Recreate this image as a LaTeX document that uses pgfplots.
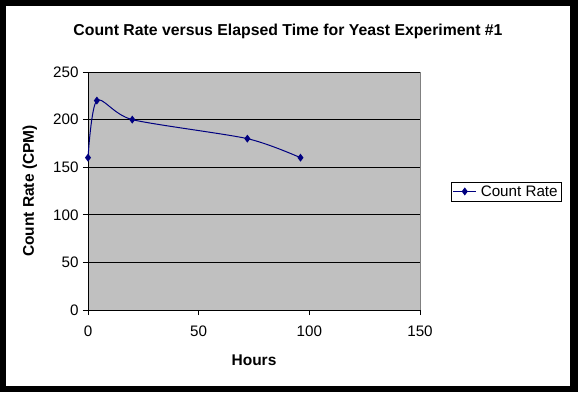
\documentclass[border=0pt]{standalone}
\usepackage{fontspec}
\setmainfont{Liberation Sans}
\usepackage{pgfplots}
\pgfplotsset{compat=1.18}
\definecolor{plotgray}{HTML}{C0C0C0}
\definecolor{navyblue}{HTML}{000080}
\begin{document}
\begin{tikzpicture}[x=1pt,y=1pt]
\fill[black] (0,0) rectangle (578,392);
\fill[white] (6,6) rectangle (570,386);
\node[font=\bfseries\fontsize{15.8}{18}\selectfont] at (288,361) {Count Rate versus Elapsed Time for Yeast Experiment \#1};
\begin{axis}[
  at={(88pt,82pt)}, anchor=south west,
  scale only axis, width=332pt, height=238pt,
  xmin=0, xmax=150, ymin=0, ymax=250,
  xtick={0,50,100,150}, ytick={0,50,100,150,200,250},
  ymajorgrids, grid style={black, line width=0.9pt},
  axis background/.style={fill=plotgray, draw=gray},
  axis x line*=bottom, axis y line*=left,
  axis line style={black, line width=0.9pt, -},
  tick align=outside, major tick length=5pt,
  tick style={black, line width=0.9pt},
  /pgf/number format/assume math mode=true,
  ticklabel style={font=\fontsize{15.2}{17}\selectfont},
  xticklabel style={yshift=-7pt},
  yticklabel style={xshift=-1pt},
  xlabel={Hours}, ylabel={Count Rate (CPM)},
  label style={font=\bfseries\fontsize{15.5}{18}\selectfont},
  xlabel style={at={(axis description cs:0.5,-0.21)}, anchor=center},
  ylabel style={at={(axis description cs:-0.175,0.5)}, anchor=center, rotate=0},
  legend style={at={(axis description cs:1.093,0.498)}, anchor=west, draw=black, fill=white,
    font=\fontsize{15.2}{18}\selectfont, inner sep=1.5pt, line width=0.8pt, column sep=2pt},
  legend image code/.code={\draw[mark repeat=2,mark phase=2] plot coordinates {(0pt,0pt)(11.5pt,0pt)(23pt,0pt)};},
]
\addplot[navyblue, line width=1pt, smooth, tension=0.45, mark=diamond*, mark size=3.2pt, mark options={fill=navyblue, solid}]
  coordinates {(0,160) (4,220) (20,200) (72,180) (96,160)};
\addlegendentry{Count Rate}
\end{axis}
\end{tikzpicture}
\end{document}
